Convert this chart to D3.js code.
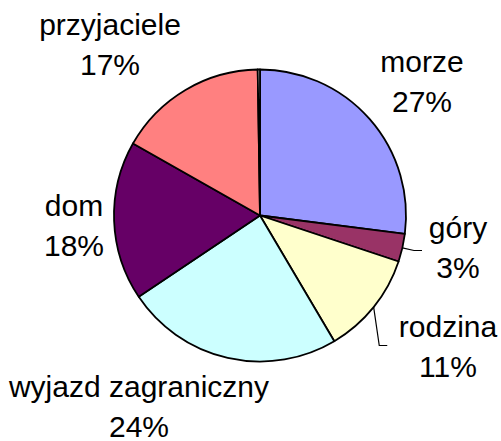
<!DOCTYPE html>
<html>
<head>
<meta charset="utf-8">
<script src="https://cdn.jsdelivr.net/npm/d3@7"></script>
<style>
  body { margin: 0; background: #fff; }
  text { font-family: Arial, "Liberation Sans", sans-serif; }
</style>
</head>
<body>
<div id="chart"></div>
<script>
// data
let categories = ["morze", "góry", "rodzina", "wyjazd zagraniczny", "dom", "przyjaciele", ""];
let values = [27.0, 3.1, 11.4, 24.1, 17.6, 16.55, 0.25];
let colors = ["#9999FF", "#993366", "#FFFFCC", "#CCFFFF", "#660066", "#FF8080", "#FFFFFF"];

// label layout: centre x and first baseline, relative to the pie centre
let labelPos = [[162, -144], [198, 22], [188, 121], [-121, 181], [-186, 0], [-150, -181], null];
let hasLeader = [false, true, true, false, false, false, false];

let width = 501, height = 441;
let cx = 260, cy = 215.5, radius = 146;
let fontSize = 30, lineGap = 40;

let svg = d3.select("#chart").append("svg")
    .attr("width", width)
    .attr("height", height);

let g = svg.append("g")
    .attr("transform", `translate(${cx},${cy})`);

let total = d3.sum(values);

let pie = d3.pie()
    .sort(null)
    .value(d => d);

let arc = d3.arc()
    .innerRadius(0)
    .outerRadius(radius);

let arcs = pie(values);

g.selectAll(".slice")
    .data(arcs)
    .enter().append("path")
    .attr("class", "slice")
    .attr("d", arc)
    .attr("fill", (d, i) => colors[i])
    .attr("stroke", "#000")
    .attr("stroke-width", 1.8)
    .attr("stroke-linejoin", "round");

// leader lines
arcs.forEach((d, i) => {
    if (!hasLeader[i]) return;
    let mid = (d.startAngle + d.endAngle) / 2;
    let p0 = [Math.sin(mid) * radius, -Math.cos(mid) * radius];
    let textW = fontSize * 0.55 * categories[i].length;
    let lx = labelPos[i][0] - textW / 2 - 3;
    let ly = labelPos[i][1] + (i === 1 ? 13 : 9);
    let elbowX = lx - 8;
    g.append("polyline")
        .attr("points", [p0, [elbowX, ly], [lx, ly]].map(p => p.join(",")).join(" "))
        .attr("fill", "none")
        .attr("stroke", "#000")
        .attr("stroke-width", 1.2);
});

// labels
arcs.forEach((d, i) => {
    if (!labelPos[i]) return;
    let pct = Math.round(values[i] / total * 100) + "%";
    let t = g.append("text")
        .attr("text-anchor", "middle")
        .attr("font-size", fontSize)
        .attr("fill", "#000");
    t.append("tspan")
        .attr("x", labelPos[i][0])
        .attr("y", labelPos[i][1])
        .text(categories[i]);
    t.append("tspan")
        .attr("x", labelPos[i][0])
        .attr("y", labelPos[i][1] + lineGap)
        .text(pct);
});
</script>
</body>
</html>
